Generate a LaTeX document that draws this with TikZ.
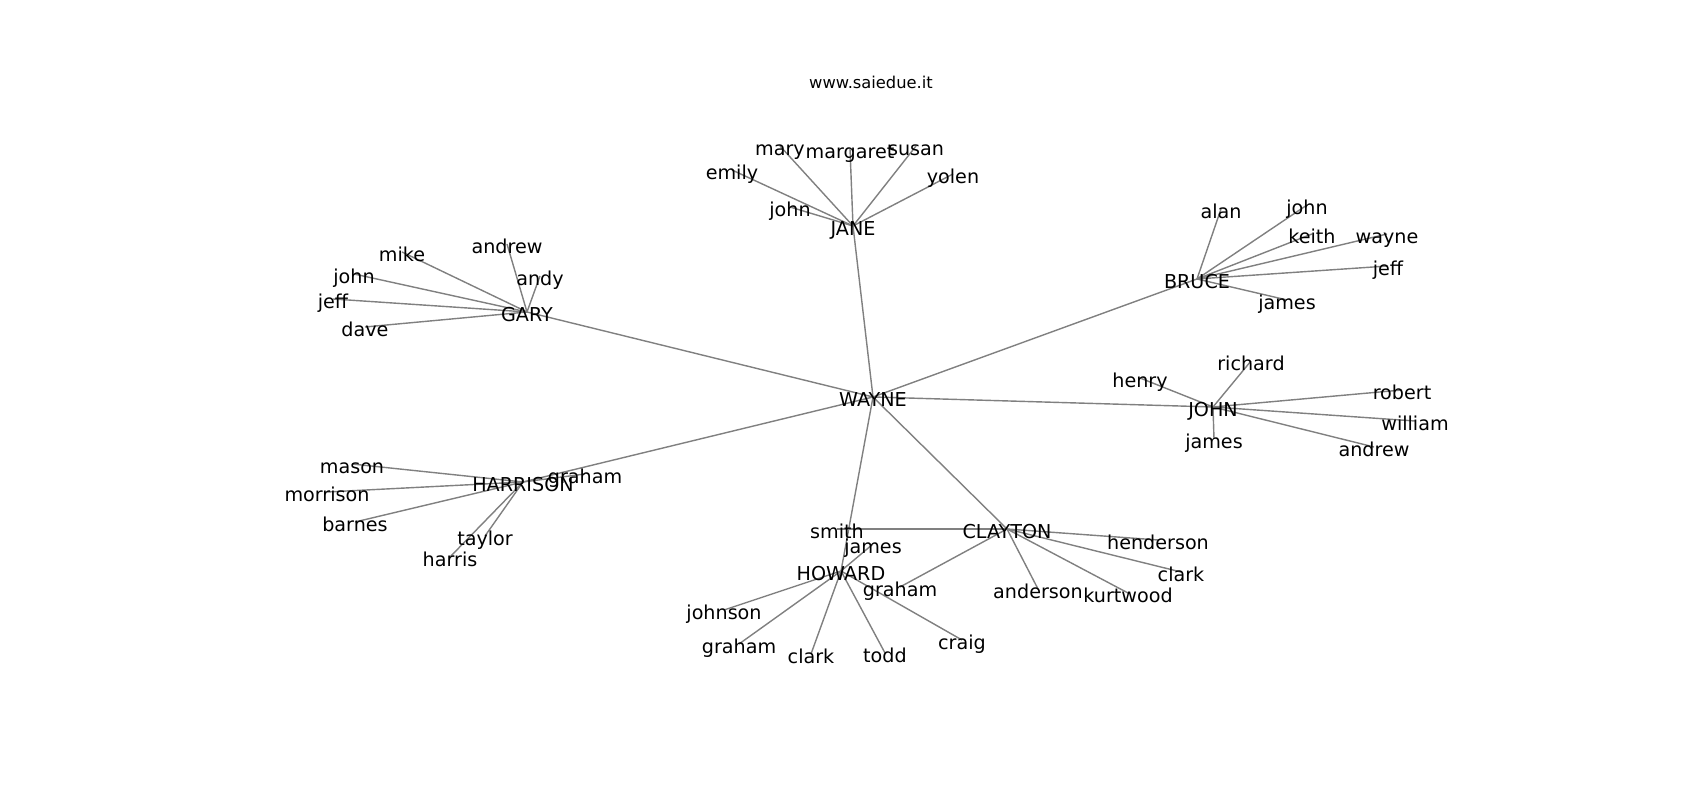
\documentclass[tikz,border=0pt]{standalone}
\usepackage{fontspec}
\setmainfont{DejaVu Sans}
\usepackage{tikz}
\usetikzlibrary{backgrounds}

\begin{document}
\begin{tikzpicture}[
	person/.style={inner sep=0pt, text height=0.76em, text depth=0.21em, font=\fontsize{5.45}{6.5}\selectfont},
	link/.style={draw=gray, line width=0.4pt}]
	\useasboundingbox (0,0) rectangle (17,8);

	\node[inner sep=0pt, font=\fontsize{4.64}{6}\selectfont] at (8.71,7.18) (title) {www.saiedue.it};

	\node[person] at (8.73,4.03) (wayne) {WAYNE};
	\node[person] at (8.53,5.74) (jane) {JANE};
	\node[person] at (5.27,4.88) (gary) {GARY};
	\node[person] at (11.97,5.21) (bruce) {BRUCE};
	\node[person] at (12.13,3.93) (john) {JOHN};
	\node[person] at (5.23,3.18) (harrison) {HARRISON};
	\node[person] at (10.07,2.71) (clayton) {CLAYTON};
	\node[person] at (8.41,2.29) (howard) {HOWARD};

	% JANE
	\node[person] at (7.80,6.54) (j1) {mary};
	\node[person] at (8.50,6.51) (j2) {margaret};
	\node[person] at (9.16,6.54) (j3) {susan};
	\node[person] at (9.53,6.26) (j4) {yolen};
	\node[person] at (7.32,6.30) (j5) {emily};
	\node[person] at (7.90,5.93) (j6) {john};

	% GARY
	\node[person] at (4.02,5.48) (g1) {mike};
	\node[person] at (3.54,5.26) (g2) {john};
	\node[person] at (3.33,5.01) (g3) {jeff};
	\node[person] at (3.65,4.73) (g4) {dave};
	\node[person] at (5.07,5.56) (g5) {andrew};
	\node[person] at (5.40,5.24) (g6) {andy};

	% BRUCE
	\node[person] at (12.21,5.91) (b1) {alan};
	\node[person] at (13.07,5.95) (b2) {john};
	\node[person] at (13.12,5.66) (b3) {keith};
	\node[person] at (13.87,5.66) (b4) {wayne};
	\node[person] at (13.88,5.34) (b5) {jeff};
	\node[person] at (12.87,5.00) (b6) {james};

	% JOHN
	\node[person] at (11.40,4.22) (o1) {henry};
	\node[person] at (12.51,4.39) (o2) {richard};
	\node[person] at (14.02,4.10) (o3) {robert};
	\node[person] at (14.15,3.79) (o4) {william};
	\node[person] at (13.74,3.53) (o5) {andrew};
	\node[person] at (12.14,3.61) (o6) {james};

	% HARRISON
	\node[person] at (5.85,3.26) (h1) {graham};
	\node[person] at (3.52,3.36) (h2) {mason};
	\node[person] at (3.27,3.08) (h3) {morrison};
	\node[person] at (3.55,2.78) (h4) {barnes};
	\node[person] at (4.85,2.64) (h5) {taylor};
	\node[person] at (4.50,2.43) (h6) {harris};

	% CLAYTON
	\node[person] at (8.37,2.71) (c1) {smith};
	\node[person] at (11.58,2.60) (c2) {henderson};
	\node[person] at (11.81,2.28) (c3) {clark};
	\node[person] at (11.28,2.07) (c4) {kurtwood};
	\node[person] at (10.38,2.11) (c5) {anderson};
	\node[person] at (9.00,2.13) (c6) {graham};

	% HOWARD
	\node[person] at (8.73,2.56) (w1) {james};
	\node[person] at (7.24,1.90) (w2) {johnson};
	\node[person] at (7.39,1.56) (w3) {graham};
	\node[person] at (8.11,1.46) (w4) {clark};
	\node[person] at (8.85,1.47) (w5) {todd};
	\node[person] at (9.62,1.60) (w6) {craig};

	\begin{pgfonlayer}{background}
	\draw[link] (wayne.center) -- (jane.center);
	\draw[link] (wayne.center) -- (gary.center);
	\draw[link] (wayne.center) -- (bruce.center);
	\draw[link] (wayne.center) -- (john.center);
	\draw[link] (wayne.center) -- (harrison.center);
	\draw[link] (wayne.center) -- (clayton.center);
	\draw[link] (wayne.center) -- (howard.center);

	\draw[link] (jane.center) -- (j1.center);
	\draw[link] (jane.center) -- (j2.center);
	\draw[link] (jane.center) -- (j3.center);
	\draw[link] (jane.center) -- (j4.center);
	\draw[link] (jane.center) -- (j5.center);
	\draw[link] (jane.center) -- (j6.center);

	\draw[link] (gary.center) -- (g1.center);
	\draw[link] (gary.center) -- (g2.center);
	\draw[link] (gary.center) -- (g3.center);
	\draw[link] (gary.center) -- (g4.center);
	\draw[link] (gary.center) -- (g5.center);
	\draw[link] (gary.center) -- (g6.center);

	\draw[link] (bruce.center) -- (b1.center);
	\draw[link] (bruce.center) -- (b2.center);
	\draw[link] (bruce.center) -- (b3.center);
	\draw[link] (bruce.center) -- (b4.center);
	\draw[link] (bruce.center) -- (b5.center);
	\draw[link] (bruce.center) -- (b6.center);

	\draw[link] (john.center) -- (o1.center);
	\draw[link] (john.center) -- (o2.center);
	\draw[link] (john.center) -- (o3.center);
	\draw[link] (john.center) -- (o4.center);
	\draw[link] (john.center) -- (o5.center);
	\draw[link] (john.center) -- (o6.center);

	\draw[link] (harrison.center) -- (h1.center);
	\draw[link] (harrison.center) -- (h2.center);
	\draw[link] (harrison.center) -- (h3.center);
	\draw[link] (harrison.center) -- (h4.center);
	\draw[link] (harrison.center) -- (h5.center);
	\draw[link] (harrison.center) -- (h6.center);

	\draw[link] (clayton.center) -- (c1.center);
	\draw[link] (clayton.center) -- (c2.center);
	\draw[link] (clayton.center) -- (c3.center);
	\draw[link] (clayton.center) -- (c4.center);
	\draw[link] (clayton.center) -- (c5.center);
	\draw[link] (clayton.center) -- (c6.center);

	\draw[link] (howard.center) -- (w1.center);
	\draw[link] (howard.center) -- (w2.center);
	\draw[link] (howard.center) -- (w3.center);
	\draw[link] (howard.center) -- (w4.center);
	\draw[link] (howard.center) -- (w5.center);
	\draw[link] (howard.center) -- (w6.center);
	\end{pgfonlayer}
\end{tikzpicture}
\end{document}
